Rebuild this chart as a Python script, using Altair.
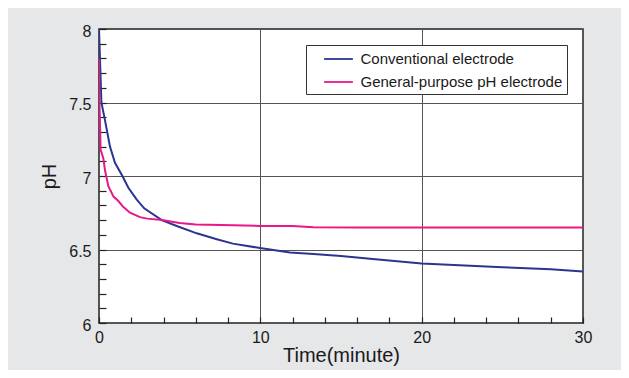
import altair as alt
import pandas as pd

# Conventional electrode (blue)
conv_t = [0, 0.15, 0.37, 0.68, 0.99, 1.45, 1.82, 2.34, 2.8, 3.89, 4.82, 6.06, 7.3, 8.3,
          9.98, 11.84, 13.3, 15, 16.8, 20, 22, 25, 28, 30]
conv_ph = [8.0, 7.5, 7.38, 7.2, 7.09, 7.0, 6.92, 6.84, 6.78, 6.70, 6.66, 6.61, 6.57, 6.54,
           6.51, 6.48, 6.47, 6.455, 6.437, 6.405, 6.395, 6.38, 6.365, 6.35]

# General-purpose pH electrode (pink)
gen_t = [0, 0.03, 0.1, 0.27, 0.37, 0.58, 0.9, 1.2, 1.5, 1.92, 2.54, 3.0, 3.9, 5.0, 6.0,
         8.3, 10, 12, 13.3, 16, 20, 25, 30]
gen_ph = [7.8, 7.5, 7.18, 7.12, 7.04, 6.93, 6.86, 6.83, 6.79, 6.75, 6.72, 6.71, 6.70, 6.68,
          6.67, 6.665, 6.66, 6.66, 6.652, 6.65, 6.65, 6.65, 6.65]

series_names = ["Conventional electrode", "General-purpose pH electrode"]
series_colors = ["#2b3590", "#e8178a"]

x_major = [0, 10, 20, 30]
x_minor = list(range(0, 31, 2))
y_major = [6, 6.5, 7, 7.5, 8]
y_minor = [round(6 + 0.1 * i, 1) for i in range(21)]

df = pd.concat([
    pd.DataFrame({"t": conv_t, "ph": conv_ph, "series": series_names[0]}),
    pd.DataFrame({"t": gen_t, "ph": gen_ph, "series": series_names[1]}),
])

FONT = "Liberation Sans"

xscale = alt.Scale(domain=[0, 30], nice=False, zero=False)
yscale = alt.Scale(domain=[6, 8], nice=False, zero=False)

main = alt.Chart(df).mark_line(strokeWidth=2, clip=True).encode(
    x=alt.X("t:Q", scale=xscale, title="Time(minute)",
            axis=alt.Axis(orient="bottom", values=x_major, grid=True, gridColor="#555",
                          gridWidth=1, gridOpacity=1, ticks=False, domain=False,
                          labelFlush=False,
                          labelFontSize=16, labelPadding=6, labelColor="#1a1a1a",
                          titleFontSize=20, titleFontWeight="normal", titlePadding=0,
                          titleColor="#1a1a1a", labelFont=FONT, titleFont=FONT)),
    y=alt.Y("ph:Q", scale=yscale, title="pH",
            axis=alt.Axis(orient="left", values=y_major, format=".1~f", grid=True,
                          gridColor="#555", gridWidth=1, gridOpacity=1, ticks=False,
                          domain=False, labelFlush=False, labelOffset=2,
                          labelFontSize=16, labelPadding=8,
                          labelColor="#1a1a1a", titleFontSize=20,
                          titleFontWeight="normal", titlePadding=9, titleColor="#1a1a1a",
                          labelFont=FONT, titleFont=FONT)),
    color=alt.Color("series:N",
                    scale=alt.Scale(domain=series_names, range=series_colors),
                    legend=alt.Legend(title=None, orient="none", legendX=207,
                                      legendY=16, fillColor="white",
                                      strokeColor="#333", padding=4,
                                      symbolType="M-1.6,0H1.6", symbolSize=324,
                                      symbolOffset=18.5,
                                      symbolStrokeWidth=1.8, labelFontSize=15,
                                      labelFont=FONT, labelColor="#1a1a1a",
                                      labelOffset=12, labelLimit=0, rowPadding=5)),
)

minor = alt.Chart(df).mark_line(strokeOpacity=0).encode(
    x=alt.X("t:Q", scale=xscale, title=None,
            axis=alt.Axis(orient="bottom", values=x_minor, offset=-6, tickSize=6,
                          tickColor="#222", tickWidth=1.2, labels=False, domain=False,
                          grid=False)),
    y=alt.Y("ph:Q", scale=yscale, title=None,
            axis=alt.Axis(orient="left", values=y_minor, offset=-7, tickSize=7,
                          tickColor="#222", tickWidth=1.2, labels=False, domain=False,
                          grid=False)),
)

chart = alt.layer(main, minor).resolve_axis(x="independent", y="independent").properties(
    width=484, height=294,
    autosize=alt.AutoSizeParams(type="none"),
    padding={"left": 91, "top": 21, "right": 38, "bottom": 47},
    background="#e6e7e9",
).configure_view(fill="white", stroke="#222", strokeWidth=1.5)

chart.save("out.html", embed_options={"renderer": "svg", "actions": False})
